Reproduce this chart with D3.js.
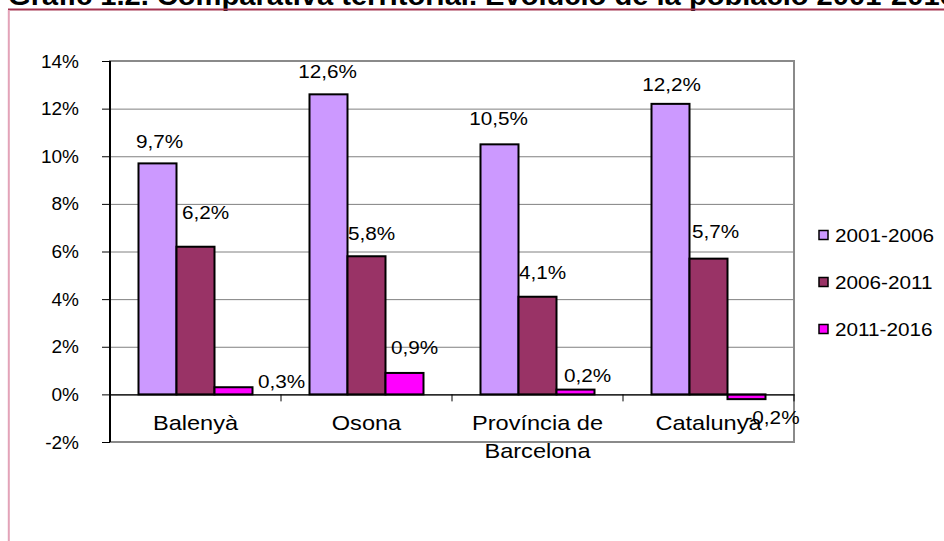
<!DOCTYPE html>
<html>
<head>
<meta charset="utf-8">
<script src="https://cdn.jsdelivr.net/npm/d3@7.9.0/dist/d3.min.js"></script>
<style>
  html, body { margin: 0; padding: 0; background: #fff; }
  svg { display: block; font-family: "Liberation Sans", Arial, sans-serif; }
</style>
</head>
<body>
<svg id="chart" width="944" height="541"></svg>
<script>
// chart data
const title = 'Gràfic 1.2. Comparativa territorial.  Evolució de la població  2001-2016';
const categories = ['Balenyà', 'Osona', 'Província de Barcelona', 'Catalunya'];
const categoryLines = [['Balenyà'], ['Osona'], ['Província de', 'Barcelona'], ['Catalunya']];
const seriesNames = ['2001-2006', '2006-2011', '2011-2016'];
const values2001_2006 = [9.7, 12.6, 10.5, 12.2];
const values2006_2011 = [6.2, 5.8, 4.1, 5.7];
const values2011_2016 = [0.3, 0.9, 0.2, -0.2];
const yTicks = [-2, 0, 2, 4, 6, 8, 10, 12, 14];

const colors = ['#CC99FF', '#993366', '#FF00FF'];

// hand placed label nudges (dx, dy from the bar end), as in the original
const labelNudge = [
  [[2, -22], [-1, -23], [-1, -26], [1, -19]],
  [[10, -34], [5, -23], [5, -24], [7, -27]],
  [[48, -6], [10, -25], [12, -14], [26, 18]]
];

const seriesValues = [values2001_2006, values2006_2011, values2011_2016];
const rows = [];
seriesValues.forEach((vals, s) => {
  vals.forEach((v, c) => rows.push({ series: seriesNames[s], s, category: categories[c], c, value: v }));
});

const fmt = v => String(v.toFixed(1)).replace('.', ',') + '%';

const svg = d3.select('#chart');

const plot = { left: 110, right: 794, top: 61, bottom: 442 };

const x0 = d3.scaleBand().domain(categories).range([plot.left, plot.right]).padding(0);
const x1 = d3.scaleBand().domain(seriesNames).range([0, x0.bandwidth()])
  .paddingInner(0).paddingOuter(0.75);
const y = d3.scaleLinear().domain([-2, 14]).range([plot.bottom, plot.top]);

// stretched text, the original is a bit wider than plain Arial
function putText(g, x, yy, txt, size, sx, anchor) {
  return g.append('text')
    .attr('transform', `translate(${x},${yy}) scale(${sx},1)`)
    .attr('text-anchor', anchor || 'middle')
    .style('font-size', size + 'px')
    .attr('fill', '#000')
    .text(txt);
}

// title (cut off at the top) and the frame lines
svg.append('text')
  .attr('transform', 'translate(8,5) scale(1.04,1)')
  .style('font-size', '28px')
  .style('font-weight', 'bold')
  .text(title);

svg.append('line')
  .attr('x1', 8).attr('x2', 944).attr('y1', 9.5).attr('y2', 9.5)
  .attr('stroke', '#A3324F').attr('stroke-width', 2);
svg.append('line')
  .attr('x1', 8.8).attr('x2', 8.8).attr('y1', 10).attr('y2', 541)
  .attr('stroke', '#E3A3B8').attr('stroke-width', 2);

// gridlines
svg.append('g')
  .attr('class', 'gridlines')
  .attr('transform', `translate(${plot.left},0)`)
  .call(d3.axisLeft(y).tickValues(yTicks).tickFormat('').tickSize(-(plot.right - plot.left)))
  .call(g => g.select('.domain').remove())
  .call(g => g.selectAll('line').attr('stroke', '#808080').attr('stroke-width', 1));

// plot area border
svg.append('rect')
  .attr('x', plot.left).attr('y', plot.top)
  .attr('width', plot.right - plot.left).attr('height', plot.bottom - plot.top)
  .attr('fill', 'none').attr('stroke', '#8a8a8a').attr('stroke-width', 2);

// bars
svg.append('g').attr('class', 'bars')
  .selectAll('rect')
  .data(rows)
  .join('rect')
  .attr('x', d => x0(d.category) + x1(d.series))
  .attr('y', d => y(Math.max(0, d.value)))
  .attr('width', x1.bandwidth())
  .attr('height', d => Math.abs(y(d.value) - y(0)))
  .attr('fill', d => colors[d.s])
  .attr('stroke', '#000')
  .attr('stroke-width', 2);

// zero line and category ticks
const xAxis = svg.append('g')
  .attr('transform', `translate(0,${y(0)})`)
  .call(d3.axisBottom(x0).tickSize(0).tickFormat(''));
xAxis.select('.domain').attr('stroke', '#000').attr('stroke-width', 1.2);
xAxis.selectAll('.tick').remove();
const bounds = categories.map(c => x0(c) + x0.bandwidth());
xAxis.selectAll('line.ctick')
  .data(bounds)
  .join('line')
  .attr('class', 'ctick')
  .attr('x1', d => d).attr('x2', d => d)
  .attr('y1', 0).attr('y2', 7)
  .attr('stroke', '#000');

// y axis
const yAxis = svg.append('g')
  .attr('transform', `translate(${plot.left},0)`)
  .call(d3.axisLeft(y).tickValues(yTicks).tickFormat(d => d + '%').tickSize(8).tickPadding(23));
yAxis.select('.domain').remove();
yAxis.append('line')
  .attr('x1', 0).attr('x2', 0).attr('y1', plot.top).attr('y2', plot.bottom)
  .attr('stroke', '#000').attr('stroke-width', 2);
yAxis.selectAll('.tick line').attr('stroke', '#000');
yAxis.selectAll('.tick text')
  .attr('fill', '#000')
  .style('font-size', '19px')
  .style('font-family', '"Liberation Sans", Arial, sans-serif');

// category labels
const catG = svg.append('g');
categoryLines.forEach((lines, i) => {
  const cx = x0(categories[i]) + x0.bandwidth() / 2;
  lines.forEach((ln, k) => putText(catG, cx, 430 + k * 28, ln, 20.5, 1.15));
});

// data labels
const lblG = svg.append('g');
rows.forEach(d => {
  const cx = x0(d.category) + x1(d.series) + x1.bandwidth() / 2;
  const [dx, dy] = labelNudge[d.s][d.c];
  putText(lblG, cx + dx, y(d.value) + dy + 6.5, fmt(d.value), 18.5, 1.12);
});

// legend
const leg = svg.append('g');
const legY = [235, 282, 329];
seriesNames.forEach((name, i) => {
  leg.append('rect')
    .attr('x', 819).attr('y', legY[i] - 4.5)
    .attr('width', 9).attr('height', 9)
    .attr('fill', colors[i]).attr('stroke', '#000').attr('stroke-width', 1.5);
  putText(leg, 835, legY[i] + 6.5, name, 18.5, 1.12, 'start');
});
</script>
</body>
</html>
